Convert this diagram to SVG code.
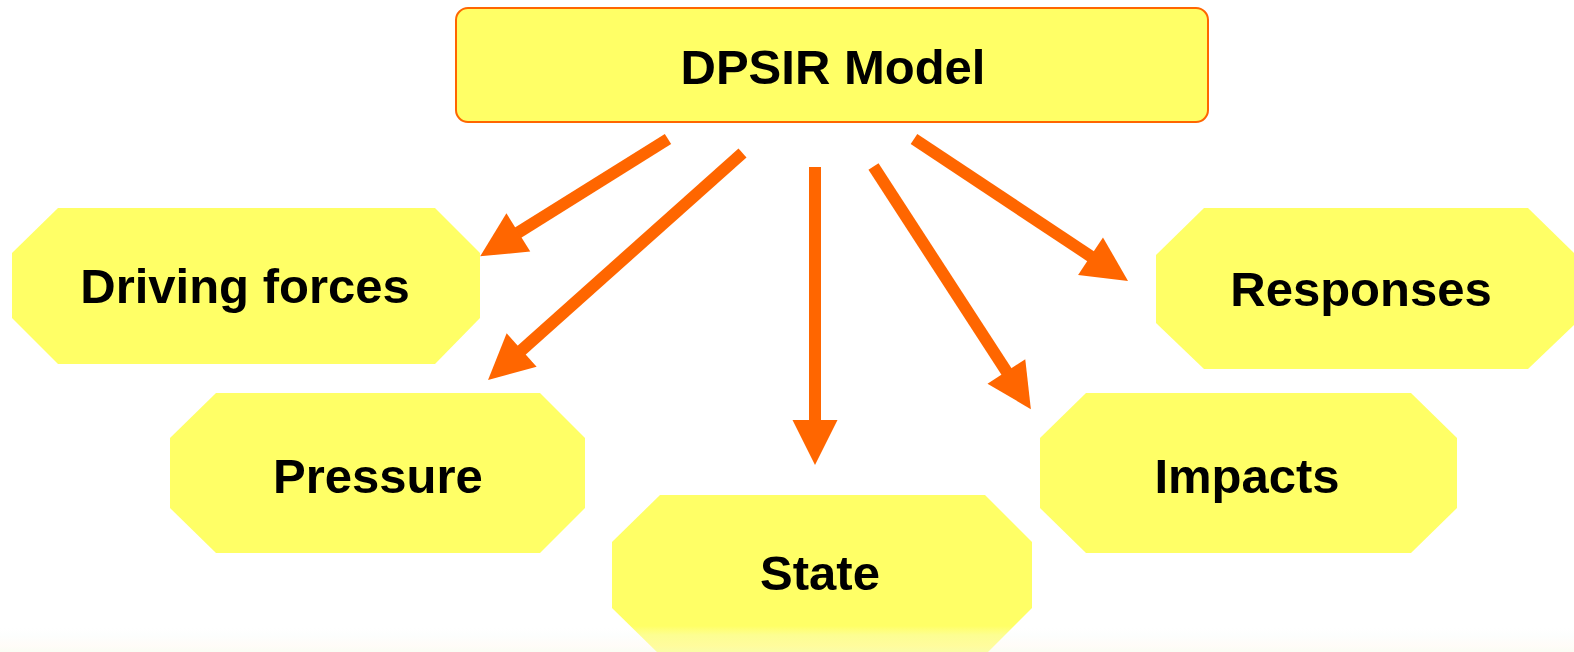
<svg xmlns="http://www.w3.org/2000/svg" width="1574" height="652" viewBox="0 0 1574 652">
  <style>
    .box { fill: #FFFF66; }
    .title { fill: #FFFF66; stroke: #FF6600; stroke-width: 2; }
    .label { font-family: "Liberation Sans", Arial, sans-serif; font-weight: bold; font-size: 49px; fill: #000; text-anchor: middle; }
    .link { stroke: #FF6600; stroke-width: 12; fill: none; marker-end: url(#head); }
  </style>
  <defs>
    <marker id="head" markerUnits="userSpaceOnUse" markerWidth="46" markerHeight="46" viewBox="0 -23 45 46" refX="5" refY="0" orient="auto">
      <path d="M0,-22.5 L45,0 L0,22.5 z" fill="#FF6600"/>
    </marker>
    <linearGradient id="fade" x1="0" y1="0" x2="0" y2="1">
      <stop offset="0" stop-color="#ffffff" stop-opacity="0"/>
      <stop offset="0.35" stop-color="#f7fbf8" stop-opacity="0.3"/>
      <stop offset="0.75" stop-color="#fff8ee" stop-opacity="0.4"/>
      <stop offset="1" stop-color="#f4fbe8" stop-opacity="0.5"/>
    </linearGradient>
  </defs>

  <rect width="1574" height="652" fill="#ffffff"/>

  <g id="node-dpsir">
    <rect class="title" x="456" y="8" width="752" height="114" rx="12" ry="12"/>
    <text class="label" x="833" y="84" font-size="51">DPSIR Model</text>
  </g>

  <g id="node-driving-forces">
    <polygon class="box" points="58,208 435,208 480,253 480,318 435,364 58,364 12,318 12,253"/>
    <text class="label" x="245" y="303">Driving forces</text>
  </g>

  <g id="node-pressure">
    <polygon class="box" points="216,393 540,393 585,438 585,508 540,553 216,553 170,508 170,438"/>
    <text class="label" x="378" y="493">Pressure</text>
  </g>

  <g id="node-state">
    <polygon class="box" points="660,495 985,495 1032,542 1032,608 985,655 660,655 612,608 612,542"/>
    <text class="label" x="820" y="590">State</text>
  </g>

  <g id="node-impacts">
    <polygon class="box" points="1086,393 1411,393 1457,438 1457,508 1411,553 1086,553 1040,508 1040,438"/>
    <text class="label" x="1247" y="493">Impacts</text>
  </g>

  <g id="node-responses">
    <polygon class="box" points="1204,208 1528,208 1576,255 1576,323 1528,369 1204,369 1156,323 1156,255"/>
    <text class="label" x="1361" y="306">Responses</text>
  </g>

  <g id="connectors">
    <line class="link" x1="668" y1="139" x2="514.1" y2="235.1"/>
    <line class="link" x1="742.5" y1="153" x2="517.9" y2="353.4"/>
    <line class="link" x1="815" y1="167" x2="815" y2="425"/>
    <line class="link" x1="873.5" y1="166.5" x2="1009.1" y2="375.6"/>
    <line class="link" x1="914" y1="139" x2="1094.7" y2="258.9"/>
  </g>

  <rect x="0" y="626" width="1574" height="26" fill="url(#fade)"/>
</svg>
